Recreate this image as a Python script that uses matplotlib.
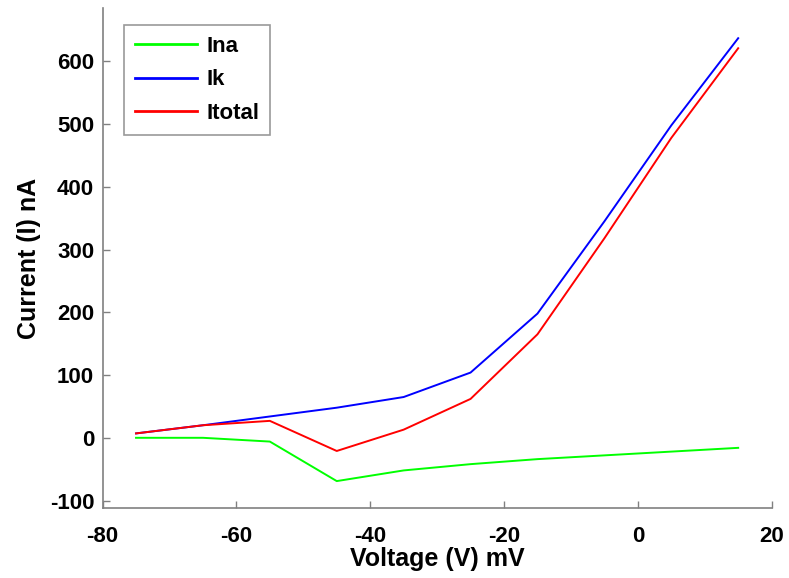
import matplotlib.pyplot as plt
import numpy as np

plt.rcParams['font.family'] = ['Liberation Sans', 'DejaVu Sans']
plt.rcParams['font.weight'] = 'bold'
plt.rcParams['axes.unicode_minus'] = False

voltage = [-75, -65, -55, -45, -35, -25, -15, -5, 5, 15]
i_na = [0, 0, -6, -69, -52, -42, -34, -28, -22, -16]
i_k = [7, 20, 34, 48, 65, 104, 198, 345, 498, 637]
i_total = [7, 20, 27, -21, 13, 62, 165, 318, 478, 621]

fig = plt.figure(figsize=(7.89, 5.78), dpi=100)
ax = fig.add_axes([0.130, 0.121, 0.848, 0.865])

ax.plot(voltage, i_na, color='#00ff00', linewidth=1.4, label='Ina')
ax.plot(voltage, i_k, color='#0000ff', linewidth=1.4, label='Ik')
ax.plot(voltage, i_total, color='#ff0000', linewidth=1.4, label='Itotal')

ax.set_xlim(-80, 20)
ax.set_ylim(-112, 685)
ax.set_xticks(np.arange(-80, 21, 20))
ax.set_yticks(np.arange(-100, 601, 100))

for s in ['top', 'right']:
	ax.spines[s].set_visible(False)
for s in ['left', 'bottom']:
	ax.spines[s].set_color('#808080')
	ax.spines[s].set_linewidth(1.2)
ax.tick_params(direction='in', length=5, width=1, color='#808080', labelsize=16)
ax.tick_params(axis='x', pad=13)
ax.tick_params(axis='y', pad=6)
for lab in ax.get_xticklabels() + ax.get_yticklabels():
	lab.set_fontweight('bold')

ax.set_xlabel('Voltage (V) mV', fontsize=18, fontweight='bold', labelpad=0)
ax.set_ylabel('Current (I) nA', fontsize=18, fontweight='bold', labelpad=6)

leg = ax.legend(loc='upper left', bbox_to_anchor=(0.032, 0.966), borderaxespad=0,
	fontsize=16, frameon=True, fancybox=False, edgecolor='#808080',
	handlelength=2.8, handletextpad=0.4, borderpad=0.5, labelspacing=0.55)
leg.get_frame().set_linewidth(1.2)
for line in leg.get_lines():
	line.set_linewidth(2.0)
for t in leg.get_texts():
	t.set_fontweight('bold')

plt.savefig('out.png', dpi=100)
